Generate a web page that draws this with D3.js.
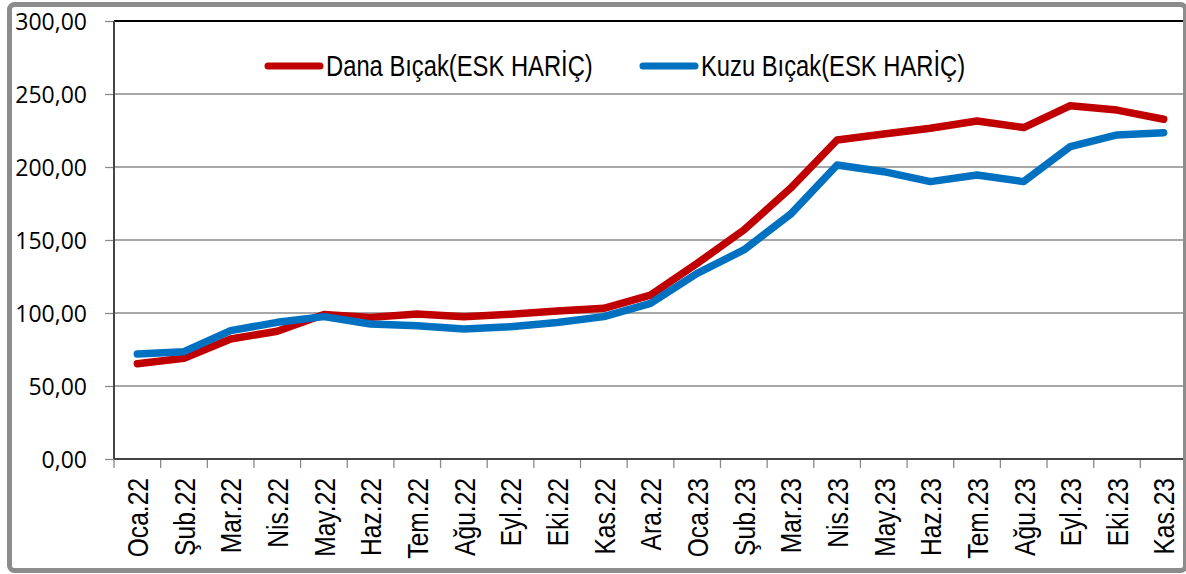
<!DOCTYPE html>
<html>
<head>
<meta charset="utf-8">
<script src="https://cdn.jsdelivr.net/npm/d3@7"></script>
<style>
	body { margin: 0; background: #fff; }
	.y-tick { font-family: 'Open Sans', sans-serif; font-size: 23px; fill: #000; }
	.x-tick { font-family: 'Liberation Sans', Arial, sans-serif; font-size: 30px; fill: #000; }
	.legend-text { font-family: 'Liberation Sans', Arial, sans-serif; font-size: 29px; fill: #000; }
</style>
</head>
<body>
<div id="chart"></div>
<script>

var months = ['Oca.22', 'Şub.22', 'Mar.22', 'Nis.22', 'May.22', 'Haz.22', 'Tem.22', 'Ağu.22',
	'Eyl.22', 'Eki.22', 'Kas.22', 'Ara.22', 'Oca.23', 'Şub.23', 'Mar.23', 'Nis.23', 'May.23',
	'Haz.23', 'Tem.23', 'Ağu.23', 'Eyl.23', 'Eki.23', 'Kas.23'];

var dana = [65.3, 69, 82.2, 87.5, 99, 97, 99.3, 97.5, 99.1, 101.4, 103.2, 112.3, 134, 156.8,
	185.4, 218.5, 222.6, 226.5, 231.5, 227, 242, 239, 232.7];

var kuzu = [71.9, 73.5, 87.9, 93.6, 97.5, 92.5, 91.3, 89, 90.6, 93.5, 97.5, 106.6, 127.2, 143.2,
	167.6, 201.4, 196.8, 190, 194.5, 190, 214, 222, 223.5];

var yTicks = [0, 50, 100, 150, 200, 250, 300];

var seriesNames = ['Dana Bıçak(ESK HARİÇ)', 'Kuzu Bıçak(ESK HARİÇ)'];
var seriesColors = ['#c00000', '#0070c0'];

var W = 1186, H = 574;
var plot = { left: 114, top: 21, right: 1187, bottom: 459 };
// no narrow font installed, so squeeze a regular one
var squeeze = 0.82;

var svg = d3.select('#chart').append('svg')
	.attr('width', W)
	.attr('height', H);

var x = d3.scaleBand()
	.domain(months)
	.range([plot.left, plot.right]);

var y = d3.scaleLinear()
	.domain([0, 300])
	.range([plot.bottom, plot.top]);

//gridlines
svg.append('g')
	.selectAll('line')
	.data(yTicks.slice(1, -1))
	.enter().append('line')
	.attr('x1', plot.left)
	.attr('x2', plot.right)
	.attr('y1', function (d) { return y(d); })
	.attr('y2', function (d) { return y(d); })
	.attr('stroke', '#8a8a8a')
	.attr('stroke-width', 1.3);

//y axis
var yAxis = svg.append('g')
	.attr('transform', 'translate(' + plot.left + ',0)')
	.call(d3.axisLeft(y).tickValues(yTicks).tickSize(9).tickPadding(18)
		.tickFormat(function (d) { return d3.format('.2f')(d).replace('.', ','); }));
yAxis.select('.domain').remove();
yAxis.selectAll('.tick line').attr('stroke', '#8a8a8a').attr('stroke-width', 1.3);
yAxis.selectAll('.tick text').attr('class', 'y-tick').attr('font-size', null).attr('font-family', null)
	.attr('dy', '0.36em');

//x axis ticks at band edges
var edges = months.map(function (m) { return x(m); });
svg.append('g')
	.selectAll('line')
	.data(edges)
	.enter().append('line')
	.attr('x1', function (d) { return d; })
	.attr('x2', function (d) { return d; })
	.attr('y1', plot.bottom)
	.attr('y2', plot.bottom + 9)
	.attr('stroke', '#8a8a8a')
	.attr('stroke-width', 1.3);

svg.append('g')
	.selectAll('text')
	.data(months)
	.enter().append('text')
	.attr('class', 'x-tick')
	.attr('text-anchor', 'end')
	.attr('dy', '0.36em')
	.attr('transform', function (d) {
		return 'translate(' + (x(d) + x.bandwidth() / 2) + ',' + (plot.bottom + 19) + ') rotate(-90) scale(' + squeeze + ',1)';
	})
	.text(function (d) { return d; });

//plot borders
svg.append('line')
	.attr('x1', plot.left).attr('x2', plot.right)
	.attr('y1', plot.top).attr('y2', plot.top)
	.attr('stroke', '#000').attr('stroke-width', 2.2);
svg.append('line')
	.attr('x1', plot.left).attr('x2', plot.left)
	.attr('y1', plot.top).attr('y2', plot.bottom)
	.attr('stroke', '#444').attr('stroke-width', 2);
svg.append('line')
	.attr('x1', plot.left).attr('x2', plot.right)
	.attr('y1', plot.bottom).attr('y2', plot.bottom)
	.attr('stroke', '#444').attr('stroke-width', 2);

//lines
var line = d3.line()
	.x(function (d, i) { return x(months[i]) + x.bandwidth() / 2; })
	.y(function (d) { return y(d); });

[dana, kuzu].forEach(function (data, i) {
	svg.append('path')
		.datum(data)
		.attr('d', line)
		.attr('fill', 'none')
		.attr('stroke', seriesColors[i])
		.attr('stroke-width', 7.5)
		.attr('stroke-linejoin', 'round')
		.attr('stroke-linecap', 'round');
});

//legend
var legendX = [265, 640];
seriesNames.forEach(function (name, i) {
	var g = svg.append('g').attr('transform', 'translate(' + legendX[i] + ',66)');
	g.append('line')
		.attr('x1', 3).attr('x2', 55)
		.attr('y1', 0).attr('y2', 0)
		.attr('stroke', seriesColors[i])
		.attr('stroke-width', 7)
		.attr('stroke-linecap', 'round');
	g.append('text')
		.attr('class', 'legend-text')
		.attr('dy', '0.36em')
		.attr('transform', 'translate(61,0) scale(' + squeeze + ',1)')
		.text(name);
});

//outer frame
svg.append('rect')
	.attr('x', 9.5)
	.attr('y', 4.5)
	.attr('width', 1176)
	.attr('height', 566)
	.attr('rx', 5)
	.attr('fill', 'none')
	.attr('stroke', '#8c8c8c')
	.attr('stroke-width', 5);

</script>
</body>
</html>
